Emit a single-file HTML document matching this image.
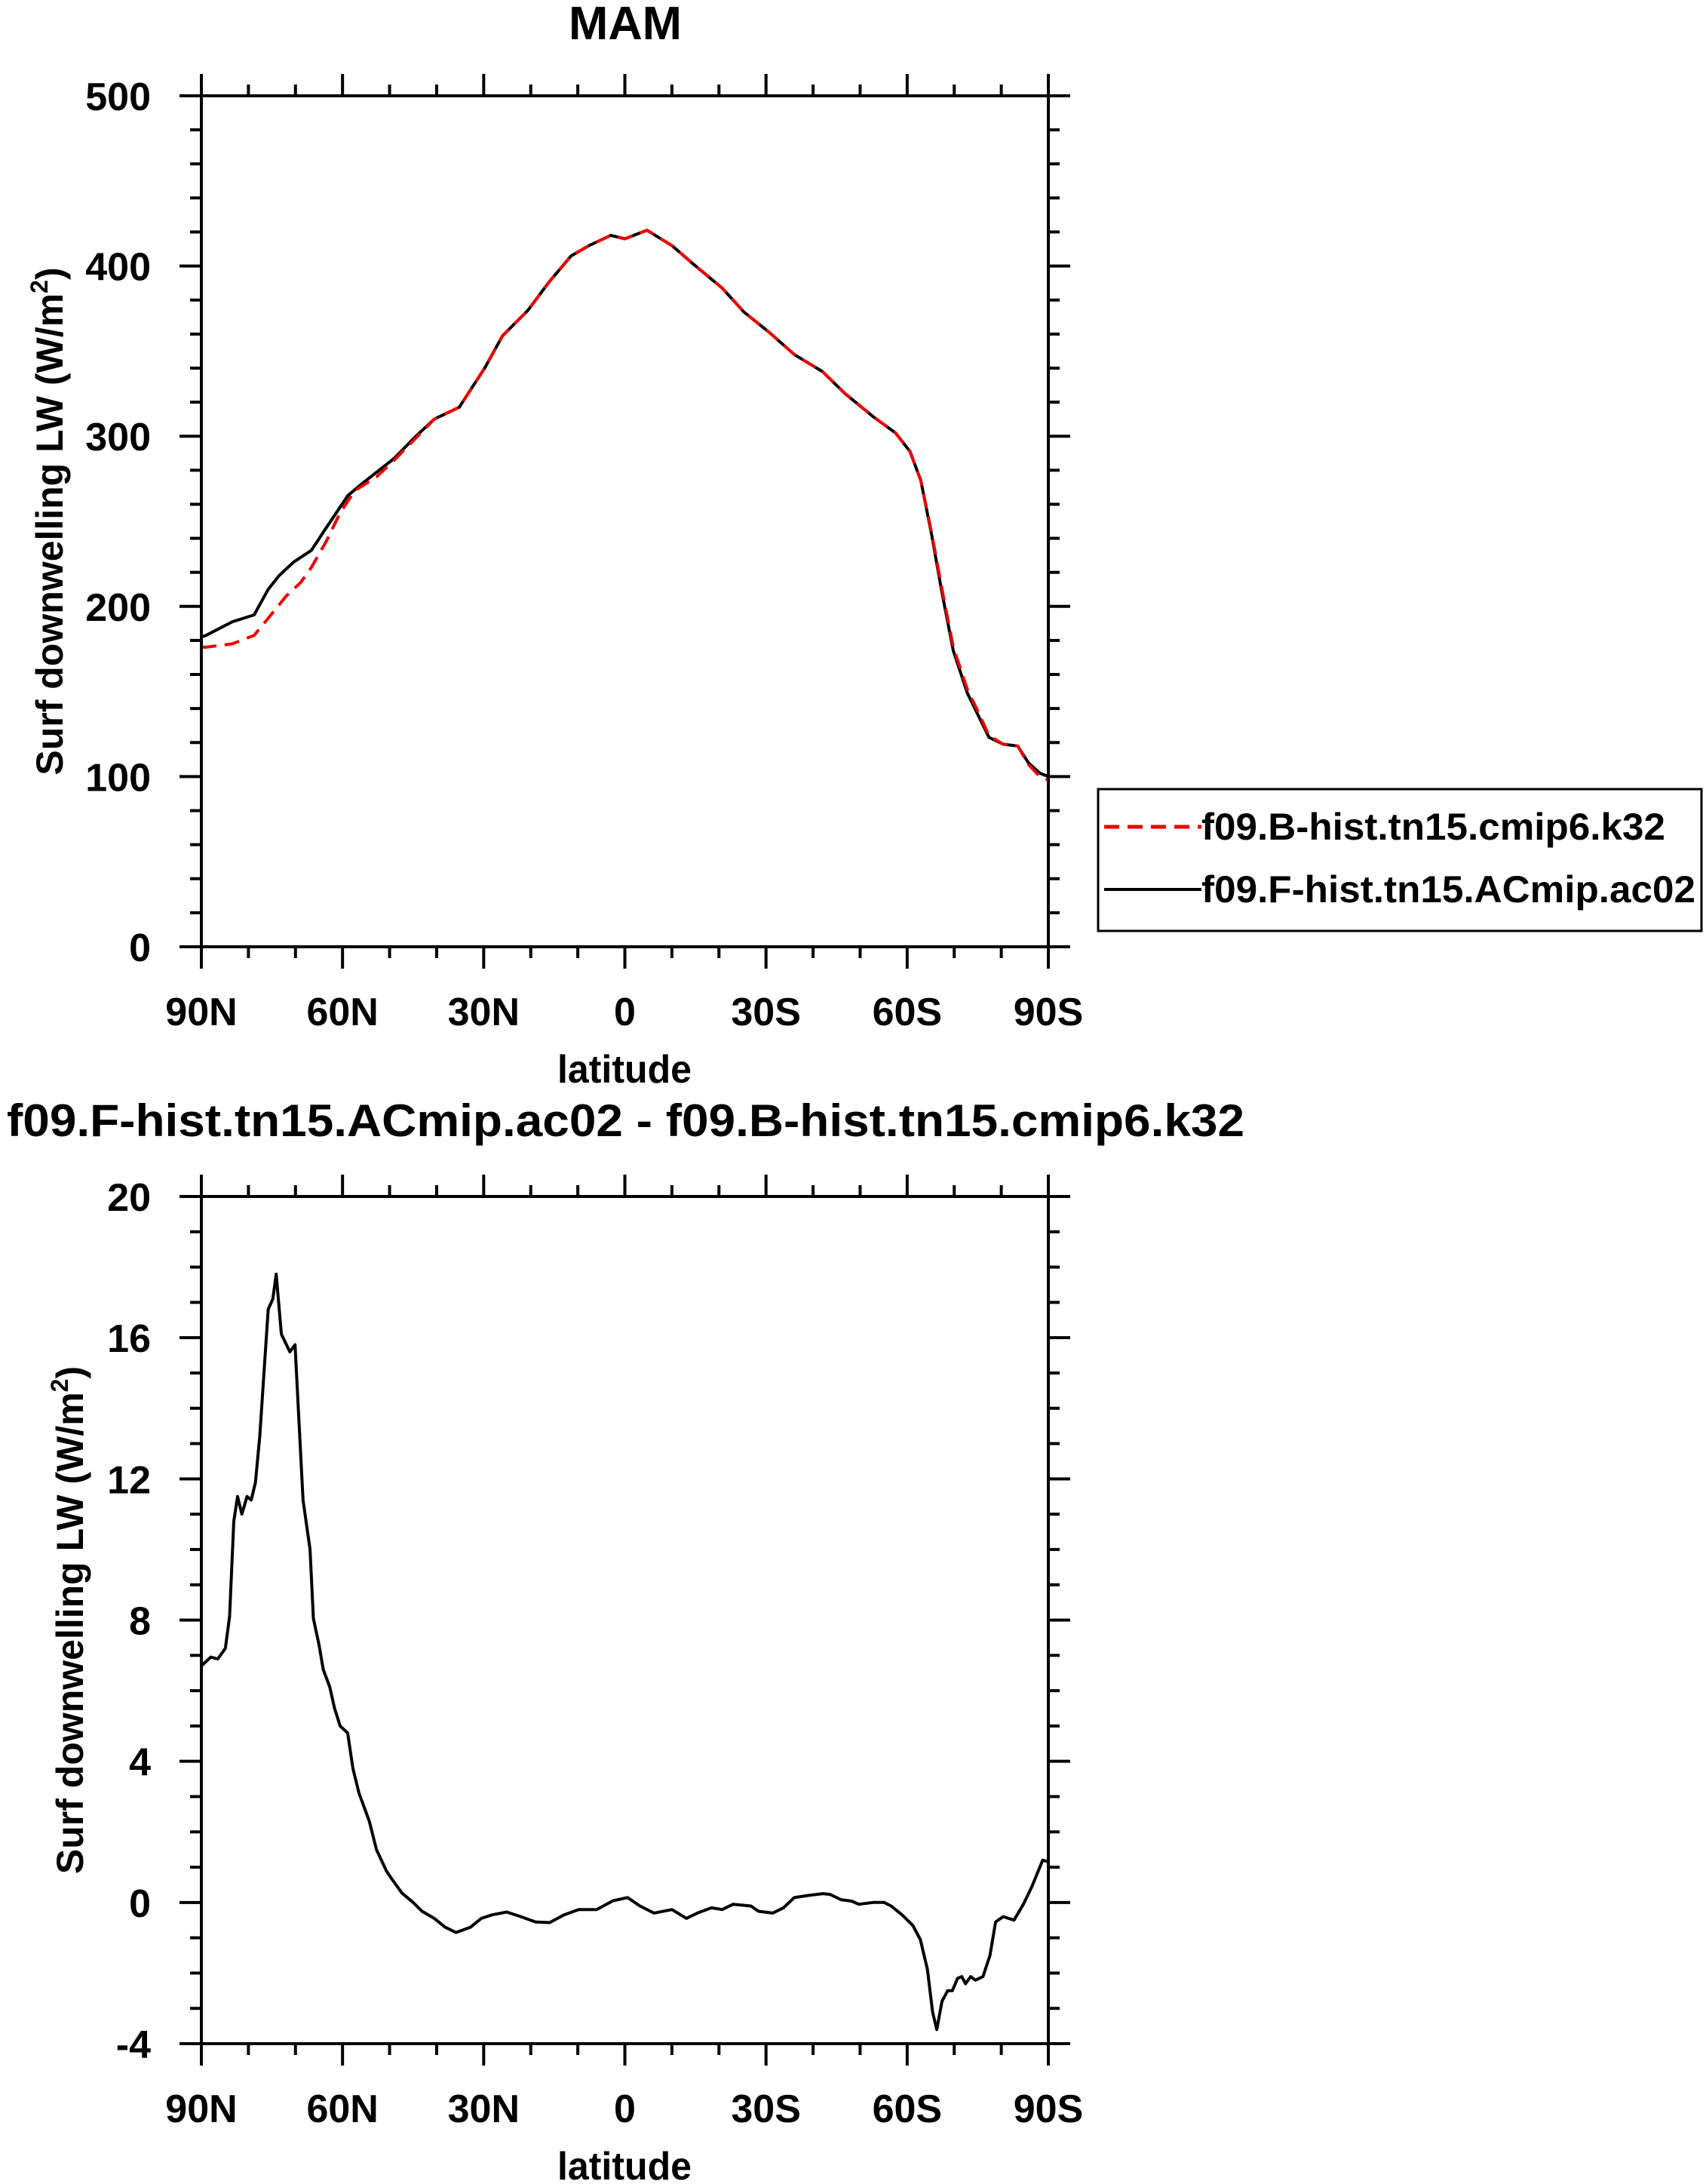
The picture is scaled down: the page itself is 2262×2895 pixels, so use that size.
<!DOCTYPE html>
<html><head><meta charset="utf-8"><style>
html,body{margin:0;padding:0;background:#fff;}
svg{display:block;font-family:"Liberation Sans",sans-serif;font-weight:bold;}
</style></head><body>
<svg id="c" width="2262" height="2895" viewBox="0 0 2262 2895" xmlns="http://www.w3.org/2000/svg">
<text x="829" y="52" font-size="62" text-anchor="middle" textLength="150" lengthAdjust="spacingAndGlyphs">MAM</text>
<text x="9" y="1506" font-size="60" textLength="1641" lengthAdjust="spacingAndGlyphs">f09.F-hist.tn15.ACmip.ac02 - f09.B-hist.tn15.cmip6.k32</text>
<g id="legend">
<rect x="1456" y="1046" width="800" height="188" fill="none" stroke="#000" stroke-width="3"/>
<line x1="1464" y1="1096" x2="1593" y2="1096" stroke="#e00" stroke-width="5" stroke-dasharray="20,11"/>
<text x="1593" y="1113" font-size="50" textLength="615" lengthAdjust="spacingAndGlyphs">f09.B-hist.tn15.cmip6.k32</text>
<line x1="1464" y1="1179" x2="1593" y2="1179" stroke="#000" stroke-width="4"/>
<text x="1593" y="1196" font-size="50" textLength="655" lengthAdjust="spacingAndGlyphs">f09.F-hist.tn15.ACmip.ac02</text>
</g>
</svg>
<script>
const lats1=[90,89,83.4,78.8,75.8,73.5,70.4,66.6,63.5,58.9,55.9,49,44.4,40.5,35.2,29.8,26,20.6,16,11.4,7.6,3,0,-4.7,-10,-14.6,-20.7,-25.3,-30.7,-36,-42,-46.8,-53,-57.5,-60.6,-62.9,-65.2,-67.4,-69.8,-72.8,-75.1,-77.4,-80.4,-83.5,-85.8,-88.2,-90];
const blackVals=[182,183,191,195,210,218,226,233,246,265,272,287,300,310,317,340,359,374,391,406,412,418,416,421,412,401,387,373,361,348,338,325,311,302,291,274,242,208,174,149,136,123,119,118,108,102,100];
const latsRed=[90,89,83.4,78.8,75.8,72,68.9,66.6,63.5,60.5,57.4,52.8,49,44.4,40.5,35.2,29.8,26,20.6,16,11.4,7.6,3,0,-4.7,-10,-14.6,-20.7,-25.3,-30.7,-36,-42,-46.8,-53,-57.5,-60.6,-62.9,-65.2,-67.4,-69.8,-72.8,-75.1,-77.4,-80.4,-83.5,-85.8,-88.2,-90];
const redVals=[176,176,178,183,193,206,214,223,238,255,268,276,286,299,310,317,340,359,374,391,406,412,418,416,421,412,401,387,373,361,348,338,325,311,302,291,274,243,210,176,151,138,124,119,118,107,100,98];
const lats2=[90,88,86.5,84.9,84,83.1,82.3,81.4,80.3,79.4,78.5,77.6,75.8,74.8,74.1,73,71.2,70.1,68.4,66.9,66.2,65,64.1,62.7,61.7,60.5,58.9,57.8,56.5,54.3,52.8,50.7,49.7,47.4,45,43.1,40.5,38.2,35.9,32.8,30.5,28.2,25.1,22.1,19,16,12.9,9.8,6,2.5,-0.6,-3.2,-6.2,-10,-13.1,-15.4,-18.4,-20.7,-23,-26.8,-28.4,-31.4,-33.7,-36,-39,-42.1,-43.6,-45.9,-48.2,-49.7,-52.8,-55.1,-56.6,-58.9,-61.2,-62.8,-64.3,-65.4,-66.3,-67.4,-68.6,-69.6,-70.7,-71.6,-72.4,-73.5,-74.5,-76.1,-77.6,-78.8,-80.4,-82.7,-84.7,-86.5,-88.8,-90];
const diffVals=[6.7,6.95,6.9,7.2,8.1,10.8,11.5,11.0,11.5,11.4,11.9,13.2,16.8,17.1,17.8,16.1,15.6,15.8,11.4,10,8.05,7.3,6.6,6.1,5.5,5.0,4.8,3.8,3.1,2.3,1.5,0.9,0.7,0.27,0,-0.25,-0.45,-0.7,-0.85,-0.7,-0.45,-0.35,-0.27,-0.4,-0.55,-0.57,-0.35,-0.2,-0.2,0.05,0.14,-0.1,-0.3,-0.2,-0.45,-0.3,-0.15,-0.2,-0.05,-0.1,-0.25,-0.3,-0.15,0.14,0.2,0.25,0.23,0.08,0.04,-0.05,0,0,-0.1,-0.35,-0.65,-1.05,-1.9,-3.1,-3.6,-2.8,-2.5,-2.5,-2.15,-2.1,-2.3,-2.1,-2.2,-2.1,-1.5,-0.55,-0.4,-0.5,-0.05,0.45,1.2,1.15];
const xTickVals=[90,60,30,0,-30,-60,-90];
const xTickLabels=["90N","60N","30N","0","30S","60S","90S"];
const yTicks1=[0,100,200,300,400,500];
const yTicks2=[-4,0,4,8,12,16,20];

const NS="http://www.w3.org/2000/svg";
const svg=document.getElementById('c');
function mk(tag,attrs,parent){const e=document.createElementNS(NS,tag);for(const k in attrs)e.setAttribute(k,attrs[k]);(parent||svg).appendChild(e);return e;}
const X0=267,X1=1390;
function xs(lat){return X0+(90-lat)/180*(X1-X0);}

function panel(name,top,bot,ymin,ymax,yMajor,yMinorStep,titleX,series){
  const g=mk('g',{});
  
  
  const ys=v=>bot-(v-ymin)/(ymax-ymin)*(bot-top);
  series.forEach(s=>{
    const d=s.lats.map((l,i)=>(i?'L':'M')+xs(l).toFixed(1)+','+ys(s.vals[i]).toFixed(1)).join(' ');
    const p=mk('path',{d:d,fill:'none',stroke:s.color,'stroke-width':s.w,'stroke-linejoin':'round','stroke-dasharray':s.dash||'none'},g);
    
    
  });
  const fr=mk('rect',{x:X0,y:top,width:X1-X0,height:bot-top,fill:'none',stroke:'#000','stroke-width':4},g);
  
  
  for(let lat=90;lat>=-90;lat-=10){
    const x=xs(lat),maj=(lat%30===0),L=maj?29:15;
    mk('line',{x1:x,y1:bot,x2:x,y2:bot+L,stroke:'#000','stroke-width':4},g);
    mk('line',{x1:x,y1:top,x2:x,y2:top-L,stroke:'#000','stroke-width':4},g);
  }
  xTickVals.forEach((v,i)=>{
    const t=mk('text',{x:xs(v),y:bot+104,'font-size':52,'text-anchor':'middle'},g);
    t.textContent=xTickLabels[i];
    
    
  });
  for(let v=ymin;v<=ymax+1e-9;v+=yMinorStep){
    const y=ys(v),maj=yMajor.some(m=>Math.abs(m-v)<1e-6),L=maj?29:15;
    mk('line',{x1:X0,y1:y,x2:X0-L,y2:y,stroke:'#000','stroke-width':4},g);
    mk('line',{x1:X1,y1:y,x2:X1+L,y2:y,stroke:'#000','stroke-width':4},g);
  }
  yMajor.forEach(v=>{
    const t=mk('text',{x:200,y:ys(v)+19,'font-size':52,'text-anchor':'end'},g);
    t.textContent=String(v);
    
    
  });
  const xt=mk('text',{x:828,y:bot+180,'font-size':52,'text-anchor':'middle',textLength:178,lengthAdjust:'spacingAndGlyphs'},g);
  xt.textContent='latitude';
  
  
  const cy=(top+bot)/2;
  const yt=mk('text',{x:0,y:0,'font-size':50,'text-anchor':'middle',transform:`translate(${titleX},${cy}) rotate(-90)`},g);
  yt.innerHTML='Surf downwelling LW (W/m<tspan dy="-20" font-size="32">2</tspan><tspan dy="20">)</tspan>';
  
  
}
panel('top-panel',127,1255,0,500,yTicks1,20,83,[
  {name:'series-black',lats:lats1,vals:blackVals,color:'#000',w:4},
  {name:'series-red',lats:latsRed,vals:redVals,color:'#e00',w:4,dash:'20,11'}
]);
panel('bottom-panel',1586,2709,-4,20,yTicks2,1,110,[
  {name:'series-difference',lats:lats2,vals:diffVals,color:'#000',w:4}
]);
svg.appendChild(document.getElementById('legend'));
</script>
</body></html>
